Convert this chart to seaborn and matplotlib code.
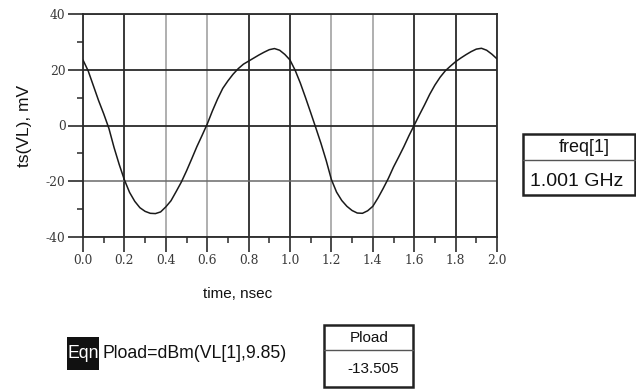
import numpy as np
import pandas as pd
import matplotlib
matplotlib.use("Agg")
import matplotlib.pyplot as plt
import seaborn as sns
from matplotlib.patches import Rectangle
from matplotlib.lines import Line2D

# ---- data (time in ns, ts(VL) in mV) ----
time_ns = [0.000, 0.025, 0.050, 0.075, 0.100, 0.125, 0.150, 0.175, 0.200, 0.225,
           0.250, 0.275, 0.300, 0.325, 0.350, 0.375, 0.400, 0.425, 0.450, 0.475,
           0.500, 0.525, 0.550, 0.575, 0.600, 0.625, 0.650, 0.675, 0.700, 0.725,
           0.750, 0.775, 0.800, 0.825, 0.850, 0.875, 0.900, 0.925, 0.950, 0.975,
           1.000, 1.025, 1.050, 1.075, 1.100, 1.125, 1.150, 1.175, 1.200, 1.225,
           1.250, 1.275, 1.300, 1.325, 1.350, 1.375, 1.400, 1.425, 1.450, 1.475,
           1.500, 1.525, 1.550, 1.575, 1.600, 1.625, 1.650, 1.675, 1.700, 1.725,
           1.750, 1.775, 1.800, 1.825, 1.850, 1.875, 1.900, 1.925, 1.950, 1.975,
           2.000]
vl_mv = [23.5, 19.6, 14.3, 9.0, 4.2, -1.0, -7.9, -14.0, -19.5, -24.0,
         -27.2, -29.5, -30.8, -31.5, -31.6, -31.0, -29.2, -27.0, -23.7, -20.3,
         -16.3, -12.0, -7.6, -3.6, 0.5, 5.2, 9.5, 13.3, 16.0, 18.4,
         20.4, 22.0, 23.1, 24.2, 25.3, 26.3, 27.2, 27.6, 27.0, 25.5,
         23.5, 19.8, 15.2, 10.0, 4.6, -0.9, -6.5, -12.6, -19.4, -23.9,
         -26.9, -29.0, -30.5, -31.4, -31.5, -30.6, -29.0, -26.0, -22.6, -19.0,
         -14.9, -11.3, -7.6, -3.6, 0.1, 3.8, 7.4, 11.2, 14.5, 17.3,
         19.6, 21.3, 22.9, 24.2, 25.4, 26.5, 27.4, 27.7, 27.0, 25.6,
         23.9]

x_ticks = [0.0, 0.2, 0.4, 0.6, 0.8, 1.0, 1.2, 1.4, 1.6, 1.8, 2.0]
x_tick_labels = ["0.0", "0.2", "0.4", "0.6", "0.8", "1.0", "1.2", "1.4", "1.6", "1.8", "2.0"]
x_minor_ticks = [0.1, 0.3, 0.5, 0.7, 0.9, 1.1, 1.3, 1.5, 1.7, 1.9]
y_ticks = [-40, -20, 0, 20, 40]
y_tick_labels = ["-40", "-20", "0", "20", "40"]
y_minor_ticks = [-30, -10, 10, 30]

x_label = "time, nsec"
y_label = "ts(VL), mV"
freq_header = "freq[1]"
freq_value = "1.001 GHz"
eqn_tag = "Eqn"
eqn_text = "Pload=dBm(VL[1],9.85)"
pload_header = "Pload"
pload_value = "-13.505"

dark_x_grid = [0.2, 0.8, 1.0, 1.6, 1.8]
dark_y_grid = [20, 0]

# ---- figure ----
sns.set_theme(style="white")
plt.rcParams['font.family'] = ['Liberation Sans', 'DejaVu Sans']

W, H = 636, 389
fig = plt.figure(figsize=(W / 100, H / 100), dpi=100)
fig.patch.set_facecolor("white")

L, R, T, B = 83, 497, 14, 237
ax = fig.add_axes([L / W, 1 - B / H, (R - L) / W, (B - T) / H])
ax.set_facecolor("white")

df = pd.DataFrame({"time": time_ns, "VL": vl_mv})
sns.lineplot(data=df, x="time", y="VL", ax=ax, color="#1a1a1a", linewidth=1.1, zorder=3)

ax.set_xlim(0, 2)
ax.set_ylim(-40, 40)
ax.set_xticks(x_ticks)
ax.set_xticklabels(x_tick_labels)
ax.set_yticks(y_ticks)
ax.set_yticklabels(y_tick_labels)
ax.set_xticks(x_minor_ticks, minor=True)
ax.set_yticks(y_minor_ticks, minor=True)

ax.set_axisbelow(True)
ax.grid(True, which="major")
for gl, v in zip(ax.get_xgridlines(), x_ticks):
    if any(abs(v - d) < 1e-9 for d in dark_x_grid):
        gl.set_color("#2a2a2a"); gl.set_linewidth(1.3)
    else:
        gl.set_color("#9a9a9a"); gl.set_linewidth(1.1)
for gl, v in zip(ax.get_ygridlines(), y_ticks):
    if v in dark_y_grid:
        gl.set_color("#2a2a2a"); gl.set_linewidth(1.3)
    else:
        gl.set_color("#6a6a6a"); gl.set_linewidth(1.1)

for s in ax.spines.values():
    s.set_visible(True)
    s.set_color("#2a2a2a")
    s.set_linewidth(1.3)

ax.tick_params(which="major", direction="out", length=10.5, width=1.2,
               color="#2a2a2a", labelsize=8.8, pad=2, labelcolor="#3a3a3a",
               bottom=True, left=True, top=False, right=False)
ax.tick_params(which="minor", direction="out", length=4.3, width=1.1,
               color="#2a2a2a", bottom=True, left=True, top=False, right=False)
for lab in ax.get_xticklabels() + ax.get_yticklabels():
    lab.set_family("DejaVu Serif")

ax.set_xlabel(x_label, fontsize=11, color="#111111")
ax.set_ylabel(y_label, fontsize=12.5, color="#111111")
ax.xaxis.set_label_coords((237.5 - L) / (R - L), (B - 287) / (B - T))
ax.yaxis.set_label_coords((32 - L) / (R - L), 0.5)


def fx(x):
    return x / W


def fy(y):
    return 1 - y / H


def box(x0, y0, x1, y1, **kw):
    fig.add_artist(Rectangle((fx(x0), fy(y1)), fx(x1) - fx(x0), fy(y0) - fy(y1),
                             transform=fig.transFigure, **kw))


# freq table
box(523, 134, 635, 195, fill=False, edgecolor="#222222", linewidth=1.8)
fig.add_artist(Line2D([fx(523), fx(635)], [fy(159.5), fy(159.5)],
                      transform=fig.transFigure, color="#555555", linewidth=1.0))
fig.text(fx(584), fy(147), freq_header, ha="center", va="center", fontsize=13, color="#111111")
fig.text(fx(577), fy(181), freq_value, ha="center", va="center", fontsize=14, color="#111111")

# equation
box(67, 337, 99, 370, facecolor="#111111", edgecolor="#111111", linewidth=0)
fig.text(fx(83), fy(354), eqn_tag, ha="center", va="center", fontsize=12.7, color="white")
fig.text(fx(102), fy(354), eqn_text, ha="left", va="center", fontsize=12.7, color="#111111")

# Pload table
box(324, 325, 413, 387, fill=False, edgecolor="#222222", linewidth=1.8)
fig.add_artist(Line2D([fx(324), fx(413)], [fy(350), fy(350)],
                      transform=fig.transFigure, color="#555555", linewidth=1.0))
fig.text(fx(369), fy(338), pload_header, ha="center", va="center", fontsize=11, color="#111111")
fig.text(fx(373), fy(369), pload_value, ha="center", va="center", fontsize=11, color="#111111")

fig.savefig("out.png", dpi=100)
